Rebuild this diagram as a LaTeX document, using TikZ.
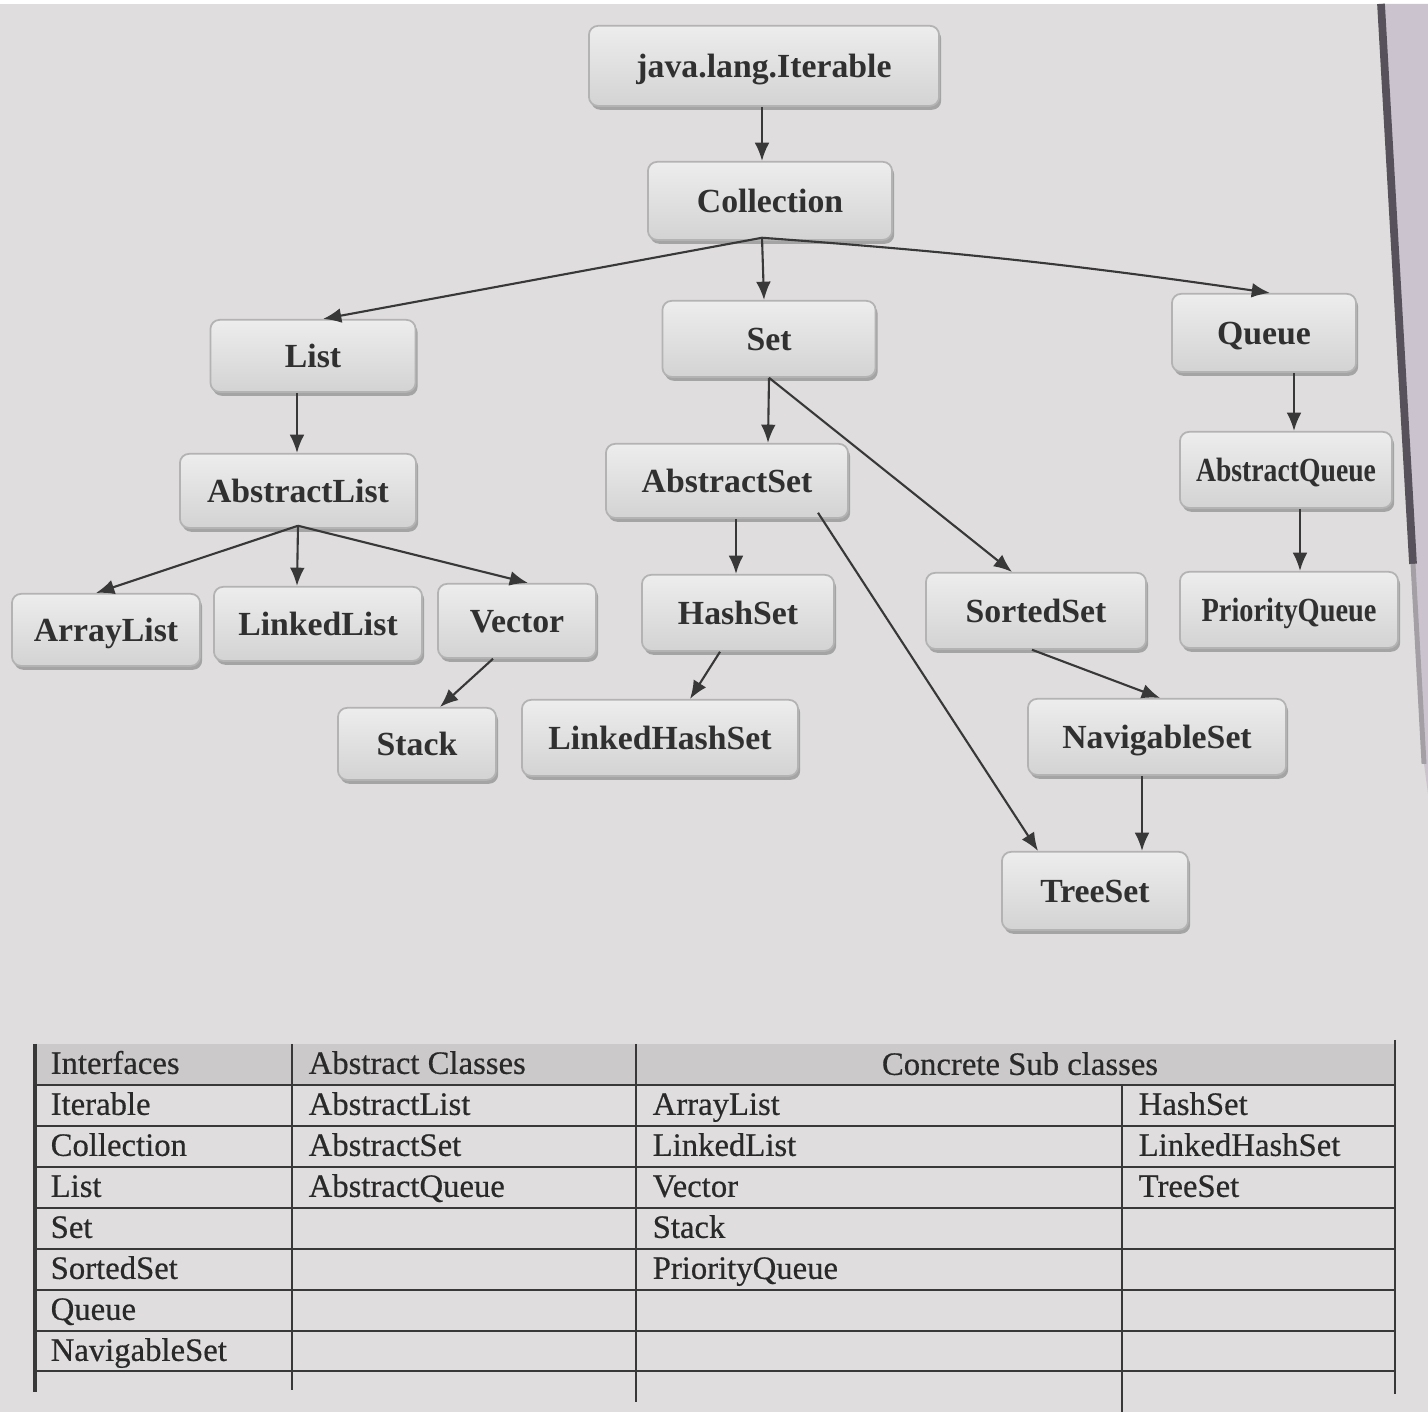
\documentclass[tikz,border=0pt]{standalone}
\usepackage{fontspec}
\setmainfont{Liberation Serif}
\newfontfamily\tabfont[FakeBold=0.5]{Liberation Serif}
\usetikzlibrary{arrows.meta,shadows,calc}
\definecolor{page}{HTML}{DFDDDD}
\definecolor{edgebg}{HTML}{CBC4CF}
\definecolor{edgedark}{HTML}{57515B}
\definecolor{boxtop}{HTML}{EDEDED}
\definecolor{boxbot}{HTML}{D3D3D3}
\definecolor{boxline}{HTML}{B3B3B3}
\definecolor{shadowc}{HTML}{8C8C8C}
\definecolor{ink}{HTML}{303030}
\definecolor{wire}{HTML}{383838}
\definecolor{hdr}{HTML}{CBC9C9}
\begin{document}
\begin{tikzpicture}[x=0.01cm,y=-0.01cm,
  cls/.style={draw=boxline, line width=0.5pt, rounded corners=2.6pt,
    top color=boxtop, bottom color=boxbot, text=ink,
    font=\fontsize{9.6pt}{11pt}\selectfont\bfseries,
    text height=6.6pt, text depth=0pt, inner sep=0pt,
    drop shadow={shadow xshift=0.6pt, shadow yshift=-1.1pt, fill=shadowc, opacity=0.7}},
  link/.style={draw=wire, line width=0.6pt, -{Latex[length=5.2pt,width=4.2pt]}},
  cell/.style={anchor=base west, inner sep=0pt, text=ink!85!black,
    font=\tabfont\fontsize{9.3pt}{11pt}\selectfont},
  rule/.style={draw=wire, line width=0.6pt}]

% page and its curled right edge
\fill[page] (0,0) rectangle (1428,1408);
\fill[edgebg] (1381,0) -- (1428,0) -- (1428,790) -- (1424,760) -- (1413,560) -- cycle;
\draw[edgedark, line width=2.2pt] (1381,0) -- (1413,560);
\draw[edgedark!55, line width=1.4pt] (1413,560) -- (1424,760);
\useasboundingbox (0,0) rectangle (1428,1408);

% class hierarchy
\node[cls, minimum width=3.50cm, minimum height=0.80cm] (iter)   at (764,62)  {java.lang.Iterable};
\node[cls, minimum width=2.44cm, minimum height=0.78cm] (coll)   at (770,197) {Collection};
\node[cls, minimum width=2.05cm, minimum height=0.72cm] (list)   at (313,352) {List};
\node[cls, minimum width=2.13cm, minimum height=0.76cm] (set)    at (769,335) {Set};
\node[cls, minimum width=1.84cm, minimum height=0.78cm] (queue)  at (1264,329) {Queue};
\node[cls, minimum width=2.36cm, minimum height=0.74cm] (alist)  at (298,487) {AbstractList};
\node[cls, minimum width=2.42cm, minimum height=0.74cm] (aset)   at (727,477) {AbstractSet};
\node[cls, minimum width=2.12cm, minimum height=0.76cm] (aqueue) at (1286,466) {\scalebox{0.82}[1]{AbstractQueue}};
\node[cls, minimum width=1.88cm, minimum height=0.72cm] (arrl)   at (106,626) {ArrayList};
\node[cls, minimum width=2.08cm, minimum height=0.74cm] (lnkl)   at (318,620) {LinkedList};
\node[cls, minimum width=1.58cm, minimum height=0.74cm] (vect)   at (517,617) {Vector};
\node[cls, minimum width=1.92cm, minimum height=0.76cm] (hset)   at (738,609) {HashSet};
\node[cls, minimum width=2.20cm, minimum height=0.76cm] (sset)   at (1036,607) {SortedSet};
\node[cls, minimum width=2.18cm, minimum height=0.76cm] (pque)   at (1289,606) {\scalebox{0.84}[1]{PriorityQueue}};
\node[cls, minimum width=1.58cm, minimum height=0.72cm] (stack)  at (417,740) {Stack};
\node[cls, minimum width=2.76cm, minimum height=0.76cm] (lhset)  at (660,734) {LinkedHashSet};
\node[cls, minimum width=2.58cm, minimum height=0.76cm] (nset)   at (1157,733) {NavigableSet};
\node[cls, minimum width=1.86cm, minimum height=0.78cm] (tset)   at (1095,887) {TreeSet};

% inheritance arrows
\draw[link] ($(iter.south)+(-2,0)$) -- ($(coll.north)+(-8,0)$);
\draw[link] ($(coll.south)+(-8,-3)$) -- ($(list.north)+(10,0)$);
\draw[link] ($(coll.south)+(-8,-3)$) -- ($(set.north)+(-5,0)$);
\draw[link] ($(coll.south)+(-8,-3)$) to[bend left=2] ($(queue.north)+(6,0)$);
\draw[link] ($(list.south)+(-16,0)$) -- ($(alist.north)+(-1,0)$);
\draw[link] (set.south) -- ($(aset.north)+(41,0)$);
\draw[link] (set.south) -- ($(sset.north)+(-24,0)$);
\draw[link] ($(queue.south)+(30,0)$) -- ($(aqueue.north)+(8,0)$);
\draw[link] ($(aqueue.south)+(14,0)$) -- ($(pque.north)+(11,0)$);
\draw[link] ($(alist.south)+(0,-3)$) -- ($(arrl.north)+(-10,0)$);
\draw[link] ($(alist.south)+(0,-3)$) -- ($(lnkl.north)+(-21,0)$);
\draw[link] ($(alist.south)+(0,-3)$) -- ($(vect.north)+(11,0)$);
\draw[link] ($(vect.south)+(-24,0)$) -- ($(stack.north)+(23,0)$);
\draw[link] ($(aset.south)+(9,0)$) -- ($(hset.north)+(-2,0)$);
\draw[link] ($(aset.south)+(91,-6)$) -- ($(tset.north)+(-57,0)$);
\draw[link] ($(hset.south)+(-18,0)$) -- ($(lhset.north)+(30,0)$);
\draw[link] ($(sset.south)+(-4,0)$) -- ($(nset.north)+(3,0)$);
\draw[link] ($(nset.south)+(-15,0)$) -- ($(tset.north)+(47,0)$);

% summary table
\fill[hdr] (35,1040) rectangle (1395,1081);
\foreach \ry in {1081,1122,1163,1204,1245,1286,1327,1367}
  \draw[rule] (35,\ry) -- (1395,\ry);
\draw[rule, line width=1.1pt] (35,1040) -- (35,1388);
\draw[rule] (292,1040) -- (292,1386);
\draw[rule] (636,1040) -- (636,1398);
\draw[rule] (1122,1081) -- (1122,1408);
\draw[rule] (1395,1036) -- (1395,1390);

\node[cell] (h1) at (50,1070) {Interfaces};
\node[cell] (h2) at (308,1070) {Abstract Classes};
\node[cell, anchor=base] (h3) at (1020,1071) {Concrete Sub classes};

\node[cell] (i1) at (50,1111) {Iterable};
\node[cell] (i2) at (50,1152) {Collection};
\node[cell] (i3) at (50,1193) {List};
\node[cell] (i4) at (50,1234) {Set};
\node[cell] (i5) at (50,1275) {SortedSet};
\node[cell] (i6) at (50,1316) {Queue};
\node[cell] (i7) at (50,1357) {NavigableSet};

\node[cell] (a1) at (308,1111) {AbstractList};
\node[cell] (a2) at (308,1152) {AbstractSet};
\node[cell] (a3) at (308,1193) {AbstractQueue};

\node[cell] (c1) at (652,1111) {ArrayList};
\node[cell] (c2) at (652,1152) {LinkedList};
\node[cell] (c3) at (652,1193) {Vector};
\node[cell] (c4) at (652,1234) {Stack};
\node[cell] (c5) at (652,1275) {PriorityQueue};

\node[cell] (s1) at (1138,1111) {HashSet};
\node[cell] (s2) at (1138,1152) {LinkedHashSet};
\node[cell] (s3) at (1138,1193) {TreeSet};
\end{tikzpicture}
\end{document}
